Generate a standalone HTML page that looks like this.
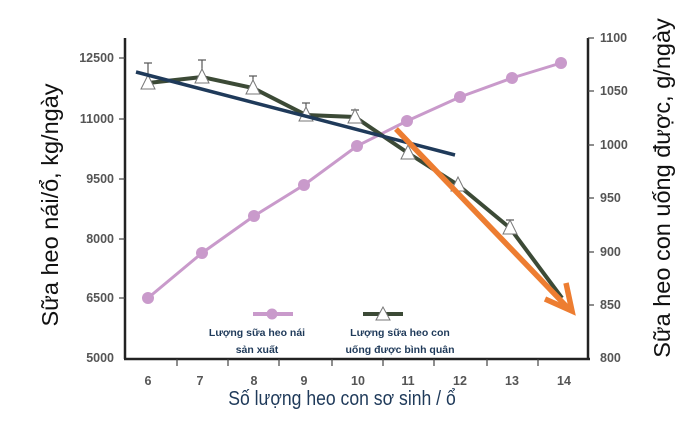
<!DOCTYPE html>
<html><head><meta charset="utf-8"><style>body{margin:0;background:#fff}</style></head><body>
<svg width="683" height="442" xmlns="http://www.w3.org/2000/svg" font-family="Liberation Sans, sans-serif">
<rect width="683" height="442" fill="#fff"/>
<g stroke="#222" stroke-width="2.5" fill="none">
<line x1="125" y1="38" x2="125" y2="359"/>
<line x1="124" y1="359" x2="590" y2="359"/>
<line x1="588" y1="38" x2="588" y2="359"/>
</g>
<g stroke="#444" stroke-width="1.2">
<line x1="119" y1="58" x2="125" y2="58"/><line x1="119" y1="119" x2="125" y2="119"/><line x1="119" y1="179" x2="125" y2="179"/><line x1="119" y1="239" x2="125" y2="239"/><line x1="119" y1="298" x2="125" y2="298"/>
<line x1="588" y1="38" x2="594" y2="38"/><line x1="588" y1="91" x2="594" y2="91"/><line x1="588" y1="145" x2="594" y2="145"/><line x1="588" y1="198" x2="594" y2="198"/><line x1="588" y1="252" x2="594" y2="252"/><line x1="588" y1="305" x2="594" y2="305"/>
<line x1="177" y1="359" x2="177" y2="366"/><line x1="228" y1="359" x2="228" y2="366"/><line x1="279" y1="359" x2="279" y2="366"/><line x1="332" y1="359" x2="332" y2="366"/><line x1="383" y1="359" x2="383" y2="366"/><line x1="434" y1="359" x2="434" y2="366"/><line x1="487" y1="359" x2="487" y2="366"/><line x1="538" y1="359" x2="538" y2="366"/>
</g>
<g font-size="12.5" fill="#555" text-anchor="end" font-weight="bold">
<text x="114" y="62">12500</text><text x="114" y="123">11000</text><text x="114" y="183">9500</text><text x="114" y="243">8000</text><text x="114" y="302">6500</text><text x="114" y="362">5000</text>
</g>
<g font-size="12.5" fill="#555" font-weight="bold">
<text x="600" y="42">1100</text><text x="600" y="95">1050</text><text x="600" y="149">1000</text><text x="600" y="202">950</text><text x="600" y="256">900</text><text x="600" y="309">850</text><text x="600" y="362">800</text>
</g>
<g font-size="12.5" fill="#555" text-anchor="middle" font-weight="bold">
<text x="148" y="385">6</text><text x="200" y="385">7</text><text x="254" y="385">8</text><text x="304" y="385">9</text><text x="358" y="385">10</text><text x="408" y="385">11</text><text x="460" y="385">12</text><text x="512" y="385">13</text><text x="564" y="385">14</text>
</g>
<text x="342" y="405" text-anchor="middle" font-size="20" fill="#1f3a5a" transform="translate(342 0) scale(0.88 1) translate(-342 0)">Số lượng heo con sơ sinh / ổ</text>
<text transform="translate(58 205) rotate(-90)" text-anchor="middle" font-size="23.5" fill="#111">Sữa heo nái/ổ, kg/ngày</text>
<text transform="translate(670 188) rotate(-90)" text-anchor="middle" font-size="23.5" fill="#111">Sữa heo con uống được, g/ngày</text>
<polyline points="148,298 202,253 254,216 304,185 357,146 407,121 460,97 512,78 561,63" fill="none" stroke="#c99acb" stroke-width="3"/>
<g fill="#c99acb"><circle cx="148" cy="298" r="6"/><circle cx="202" cy="253" r="6"/><circle cx="254" cy="216" r="6"/><circle cx="304" cy="185" r="6"/><circle cx="357" cy="146" r="6"/><circle cx="407" cy="121" r="6"/><circle cx="460" cy="97" r="6"/><circle cx="512" cy="78" r="6"/><circle cx="561" cy="63" r="6"/></g>
<g stroke="#555" stroke-width="1.2">
<line x1="148" y1="63" x2="148" y2="83"/><line x1="144" y1="63" x2="152" y2="63"/>
<line x1="202" y1="60" x2="202" y2="77"/><line x1="198" y1="60" x2="206" y2="60"/>
<line x1="253" y1="76" x2="253" y2="88"/><line x1="249" y1="76" x2="257" y2="76"/>
<line x1="306" y1="103" x2="306" y2="115"/><line x1="302" y1="103" x2="310" y2="103"/>
<line x1="355" y1="110" x2="355" y2="117"/><line x1="351" y1="110" x2="359" y2="110"/>
<line x1="510" y1="220" x2="510" y2="228"/><line x1="506" y1="220" x2="514" y2="220"/>
</g>
<polyline points="148,83 202,77 253,88 306,115 355,117 408,153 458,185 510,228 562,298" fill="none" stroke="#3c4a36" stroke-width="4"/>
<g fill="#fff" stroke="#777" stroke-width="1">
<polygon points="148,75 141,89 155,89"/><polygon points="202,69 195,83 209,83"/><polygon points="253,80 246,94 260,94"/><polygon points="306,107 299,121 313,121"/><polygon points="355,109 348,123 362,123"/><polygon points="408,145 401,159 415,159"/><polygon points="458,177 451,191 465,191"/><polygon points="510,220 503,234 517,234"/>
</g>
<line x1="136" y1="72" x2="455" y2="155" stroke="#1f3a5a" stroke-width="3.5"/>
<g stroke="#ed7d31" stroke-width="5.5" fill="none">
<line x1="396" y1="129" x2="568" y2="308"/>
<polyline points="545,299 572,311 566,283"/>
</g>
<line x1="253" y1="314" x2="293" y2="314" stroke="#c99acb" stroke-width="4"/>
<circle cx="272" cy="314" r="5.5" fill="#c99acb"/>
<line x1="363" y1="314" x2="403" y2="314" stroke="#3c4a36" stroke-width="4"/>
<polygon points="383,307 376,320 390,320" fill="#fff" stroke="#777"/>
<g font-size="10.5" fill="#1f3a5a" text-anchor="middle" font-weight="bold">
<text x="257" y="336">Lượng sữa heo nái</text><text x="257" y="353">sản xuất</text>
<text x="400" y="336">Lượng sữa heo con</text><text x="400" y="353">uống được bình quân</text>
</g>
</svg>
</body></html>
